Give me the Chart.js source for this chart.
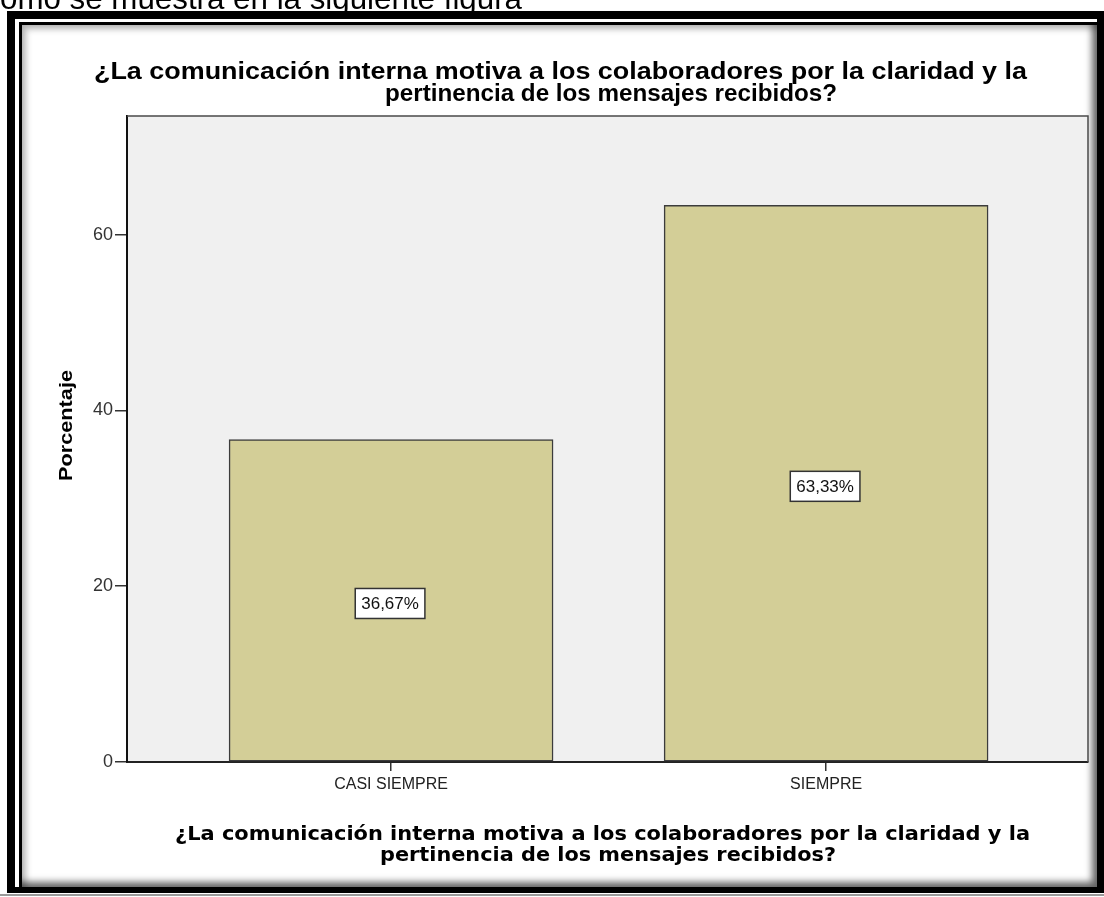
<!DOCTYPE html>
<html>
<head>
<meta charset="utf-8">
<script src="https://cdn.jsdelivr.net/npm/chart.js@4.4.1/dist/chart.umd.min.js"></script>
<style>
  html, body { margin: 0; padding: 0; background: #fff; overflow: hidden; }
  body { width: 1104px; height: 897px; position: relative; }
  .blk { position: absolute; }
  #f1 { left: 7px; top: 11px; width: 1110px; height: 882px; background: #000; }
  #f2 { left: 15px; top: 19px; width: 1082px; height: 868px; background: #fff; }
  #f3 { left: 19px; top: 22px; width: 1078px; height: 865px; background: #000; }
  #f4 { left: 22px; top: 25px; width: 1075px; height: 862px; background: #fff;
        box-shadow: inset 4px 4px 6px rgba(0,0,0,0.28), inset -5px -5px 7px rgba(0,0,0,0.6); }
  #gl { left: 0; top: 894px; width: 1104px; height: 2px; background: #9a9a9a; }
  #c { position: absolute; left: 0; top: 0; z-index: 2; }
</style>
</head>
<body>
<div class="blk" id="f1"></div>
<div class="blk" id="f2"></div>
<div class="blk" id="f3"></div>
<div class="blk" id="f4"></div>
<div class="blk" id="gl"></div>
<canvas id="c" width="1104" height="897"></canvas>
<script>
// ---- data ----
const categories = ['CASI SIEMPRE', 'SIEMPRE'];
const percentages = [36.67, 63.33];
const valueLabels = ['36,67%', '63,33%'];
const yTickValues = [0, 20, 40, 60];
const titleLines = ['¿La comunicación interna motiva a los colaboradores por la claridad y la',
                    'pertinencia de los mensajes recibidos?'];
const xTitleLines = ['¿La comunicación interna motiva a los colaboradores por la claridad y la',
                     'pertinencia de los mensajes recibidos?'];
const yTitle = 'Porcentaje';
const introText = 'omo se muestra en la siguiente figura';

function fitText(ctx, text, font, x0, x1, baseline, color) {
  ctx.save();
  ctx.font = font;
  ctx.fillStyle = color;
  ctx.textAlign = 'left';
  ctx.textBaseline = 'alphabetic';
  const w = ctx.measureText(text).width;
  ctx.translate(x0, baseline);
  ctx.scale((x1 - x0) / w, 1);
  ctx.fillText(text, 0, 0);
  ctx.restore();
}

const decor = {
  id: 'decor',
  beforeDraw(chart) {
    const { ctx, chartArea: a } = chart;
    ctx.save();
    ctx.fillStyle = '#f0f0f0';
    ctx.fillRect(a.left, a.top, a.right - a.left, a.bottom - a.top);
    ctx.restore();
  },
  afterDatasetsDraw(chart) {
    const { ctx, chartArea: a } = chart;
    ctx.save();
    ctx.strokeStyle = '#4a4a4a';
    ctx.lineWidth = 1.5;
    ctx.beginPath();
    ctx.moveTo(a.left, a.top);
    ctx.lineTo(a.right, a.top);
    ctx.lineTo(a.right, a.bottom);
    ctx.stroke();
    // value labels
    const meta = chart.getDatasetMeta(0);
    ctx.font = '17px "Liberation Sans", Arial, sans-serif';
    ctx.textAlign = 'center';
    ctx.textBaseline = 'middle';
    meta.data.forEach((bar, i) => {
      const cx = bar.x - 1;
      const cy = (bar.y + bar.base) / 2 + 3;
      const txt = valueLabels[i];
      const w = ctx.measureText(txt).width + 12;
      const h = 30;
      ctx.fillStyle = '#ffffff';
      ctx.fillRect(cx - w / 2, cy - h / 2, w, h);
      ctx.strokeStyle = '#333';
      ctx.lineWidth = 1.5;
      ctx.strokeRect(cx - w / 2, cy - h / 2, w, h);
      ctx.fillStyle = '#111';
      ctx.fillText(txt, cx, cy + 1);
    });
    ctx.restore();
  },
  afterDraw(chart) {
    const ctx = chart.ctx;
    const bold = 'bold 23px "Liberation Sans", Arial, sans-serif';
    fitText(ctx, introText, '31px "Liberation Sans", Arial, sans-serif', 0, 522, 9, '#000');
    fitText(ctx, titleLines[0], bold, 94, 1027, 79, '#000');
    fitText(ctx, titleLines[1], bold, 385, 837, 101, '#000');
    const xb = 'bold 19px "DejaVu Sans", Verdana, sans-serif';
    fitText(ctx, xTitleLines[0], xb, 175, 1030, 840, '#000');
    fitText(ctx, xTitleLines[1], xb, 380, 836, 861, '#000');
    // y title rotated
    ctx.save();
    ctx.translate(72, 481);
    ctx.rotate(-Math.PI / 2);
    ctx.font = 'bold 18px "Liberation Sans", Arial, sans-serif';
    const w = ctx.measureText(yTitle).width;
    ctx.scale(111 / w, 1);
    ctx.fillStyle = '#000';
    ctx.textBaseline = 'alphabetic';
    ctx.fillText(yTitle, 0, 0);
    ctx.restore();
  }
};

new Chart(document.getElementById('c'), {
  type: 'bar',
  data: {
    datasets: [{
      data: categories.map((c, i) => ({ x: i, y: percentages[i] })),
      backgroundColor: '#d3ce97',
      borderColor: '#3c3c3c',
      borderWidth: 1.5,
      borderSkipped: false,
      barThickness: 324
    }]
  },
  options: {
    responsive: false,
    devicePixelRatio: 1,
    animation: false,
    layout: { padding: { left: 0, top: 116, right: 16, bottom: 95 } },
    plugins: { legend: { display: false }, tooltip: { enabled: false }, title: { display: false } },
    scales: {
      x: {
        type: 'linear',
        offset: false,
        min: -0.607,
        max: 1.602,
        afterBuildTicks: s => { s.ticks = categories.map((c, i) => ({ value: i })); },
        afterFit: s => { s.height = 40; },
        ticks: {
          callback: v => categories[v],
          font: { family: '"Liberation Sans", Arial, sans-serif', size: 16 },
          color: '#222',
          padding: 4,
          maxRotation: 0,
          autoSkip: false
        },
        grid: { offset: false, drawOnChartArea: false, drawTicks: true, tickLength: 9, color: '#333', lineWidth: 1.5 },
        border: { display: true, color: '#222', width: 2 }
      },
      y: {
        min: 0,
        max: 73.5,
        afterBuildTicks: s => { s.ticks = yTickValues.map(v => ({ value: v })); },
        afterFit: s => { s.width = 127; },
        ticks: {
          font: { family: '"Liberation Sans", Arial, sans-serif', size: 18 },
          color: '#333',
          padding: 2
        },
        grid: { drawOnChartArea: false, drawTicks: true, tickLength: 12, color: '#333', lineWidth: 1.5 },
        border: { display: true, color: '#111', width: 2 }
      }
    }
  },
  plugins: [decor]
});
</script>
</body>
</html>
